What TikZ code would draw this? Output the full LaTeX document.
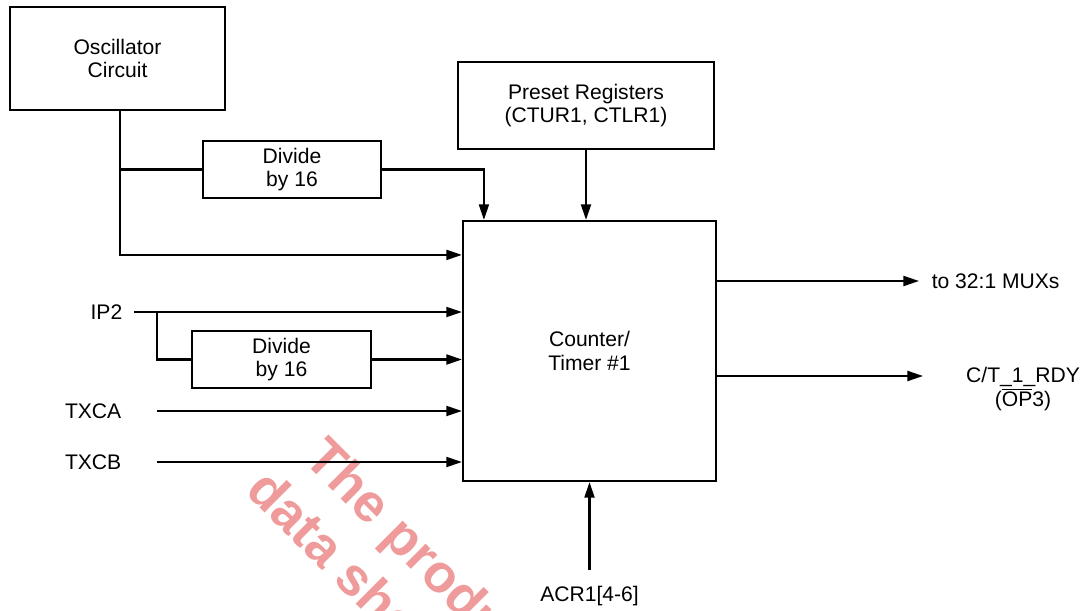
\documentclass[tikz,border=0pt]{standalone}
\usepackage{fontspec}
\setmainfont{Liberation Sans}
\usetikzlibrary{arrows.meta,calc}
\definecolor{wmark}{RGB}{239,155,155}

\begin{document}
\begin{tikzpicture}[x=0.025cm,y=-0.025cm,line width=1.5pt,
  font=\fontsize{15}{16.6}\selectfont,
  blk/.style={draw,align=center,inner sep=0pt},
  lbl/.style={align=center},
  sig/.style={-{Triangle[length=0.39cm,width=0.25cm]}},
  wm/.style={text=wmark,rotate=-45,anchor=base west,inner sep=0pt,
    font=\fontsize{38}{42}\selectfont\bfseries}]
\useasboundingbox (0,0) rectangle (1085,611);

\begin{scope}
\clip (0,0) rectangle (1085,611);
\node[wm] (wm1) at (302,460) {The product};
\node[wm] (wm2) at (244,492) {data sheet};
\end{scope}

\node[blk,minimum width=5.375cm,minimum height=2.575cm] (osc) at (117.5,58.5) {Oscillator\\Circuit};
\node[blk,minimum width=6.4cm,minimum height=2.175cm] (pre) at (586,105.5) {Preset Registers\\(CTUR1, CTLR1)};
\node[blk,minimum width=4.45cm,minimum height=1.425cm] (div1) at (292,169.5) {Divide\\by 16};
\node[blk,minimum width=4.475cm,minimum height=1.425cm] (div2) at (281.5,359.5) {Divide\\by 16};
\node[blk,minimum width=6.325cm,minimum height=6.5cm] (ctr) at (589.5,351) {Counter/\\Timer \#1};

\node[lbl,anchor=east] (ip2) at (128,312) {IP2};
\node[lbl,anchor=east] (txca) at (127,411) {TXCA};
\node[lbl,anchor=east] (txcb) at (127,462) {TXCB};
\node[lbl,anchor=west] (mux) at (926,281) {to 32:1 MUXs};
\node[lbl] (rdy) at (1023,389) {C/T\_1\_RDY\\($\overline{\mbox{O}}\overline{\mbox{P}}$3)};
\coordinate (rdyin) at (923,376);
\coordinate (tap) at ([xshift=0.0625cm]osc.south);
\node[lbl] (acr) at (589.5,596) {ACR1[4-6]};

\draw[sig] (tap) |- ($(ctr.north west)+(0,35)$);
\draw (tap |- div1.west) -- (div1.west);
\draw[sig] (div1.east) -| ($(ctr.north west)+(22,0)$);
\draw[sig] (pre.south) -- (pre.south |- ctr.north);

\draw[sig] ([xshift=0.15cm]ip2.east) -- (ip2.east -| ctr.west);
\draw ([xshift=0.725cm]ip2.east) |- (div2.west);
\draw[sig] (div2.east) -- (div2.east -| ctr.west);
\draw[sig] ([xshift=0.75cm]txca.east) -- (txca.east -| ctr.west);
\draw[sig] ([xshift=0.75cm]txcb.east) -- (txcb.east -| ctr.west);

\draw[sig] (ctr.east |- mux.west) -- ([xshift=-0.175cm]mux.west);
\draw[sig] (ctr.east |- rdyin) -- (rdyin);
\draw[sig] ([yshift=0.25cm]acr.north) -- (ctr.south);
\end{tikzpicture}
\end{document}
